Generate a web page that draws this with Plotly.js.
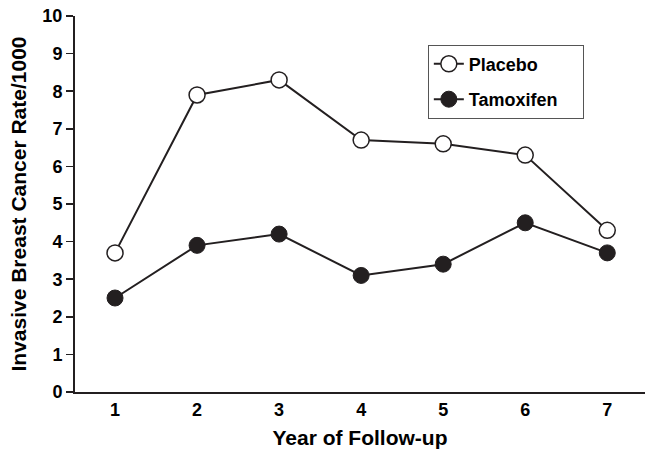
<!DOCTYPE html>
<html>
<head>
<meta charset="utf-8">
<script src="https://cdn.plot.ly/plotly-3.0.1.min.js"></script>
<style>html,body{margin:0;padding:0;background:#fff;}#chart{width:647px;height:451px;}</style>
</head>
<body>
<div id="chart"></div>
<script>
var years = [1, 2, 3, 4, 5, 6, 7];
var placebo = [3.7, 7.9, 8.3, 6.7, 6.6, 6.3, 4.3];
var tamoxifen = [2.5, 3.9, 4.2, 3.1, 3.4, 4.5, 3.7];
var yTicks = [0, 1, 2, 3, 4, 5, 6, 7, 8, 9, 10];
var seriesNames = ['Placebo', 'Tamoxifen'];

var ink = '#231f20';
var font = 'Liberation Sans, Arial, sans-serif';
var pad = '\u00a0\u00a0\u00a0\u00a0';

var traces = [
  {
    x: years, y: placebo, name: seriesNames[0], type: 'scatter', mode: 'lines+markers',
    legendgroup: 'a',
    line: {color: ink, width: 2},
    marker: {symbol: 'circle', size: 16, color: '#ffffff', line: {color: ink, width: 1.5}}
  },
  {
    x: years, y: tamoxifen, name: seriesNames[1] + pad, type: 'scatter', mode: 'lines+markers',
    legendgroup: 'b',
    line: {color: ink, width: 2},
    marker: {symbol: 'circle', size: 16, color: ink, line: {color: ink, width: 1}}
  }
];

var layout = {
  width: 647, height: 451,
  margin: {l: 75, r: 2, t: 16, b: 59},
  paper_bgcolor: '#ffffff', plot_bgcolor: '#ffffff',
  font: {family: font, color: '#000000', size: 18, weight: 'bold'},
  showlegend: true,
  legend: {
    x: 0.619, y: 0.924, xanchor: 'left', yanchor: 'top',
    bgcolor: '#ffffff', bordercolor: '#555555', borderwidth: 1,
    font: {family: font, size: 18, color: '#000000', weight: 'bold'},
    traceorder: 'grouped', tracegroupgap: 9
  },
  xaxis: {
    range: [0.512, 7.46], tickmode: 'array', tickvals: years,
    showgrid: false, zeroline: false, showline: true, linecolor: ink, linewidth: 2,
    ticks: '', tickfont: {family: font, size: 18, weight: 'bold'},
    title: {text: 'Year of Follow-up', font: {family: font, size: 21, weight: 'bold'}, standoff: 12},
    fixedrange: true
  },
  yaxis: {
    range: [0, 10], tickmode: 'array', tickvals: yTicks,
    showgrid: false, zeroline: false, showline: true, linecolor: ink, linewidth: 2,
    ticks: 'outside', ticklen: 7, tickwidth: 1.5, tickcolor: ink,
    tickfont: {family: font, size: 18, weight: 'bold'},
    title: {text: 'Invasive Breast Cancer Rate/1000', font: {family: font, size: 21, weight: 'bold'}, standoff: 10},
    fixedrange: true
  }
};

Plotly.newPlot('chart', traces, layout, {displayModeBar: false, staticPlot: true});
</script>
</body>
</html>
